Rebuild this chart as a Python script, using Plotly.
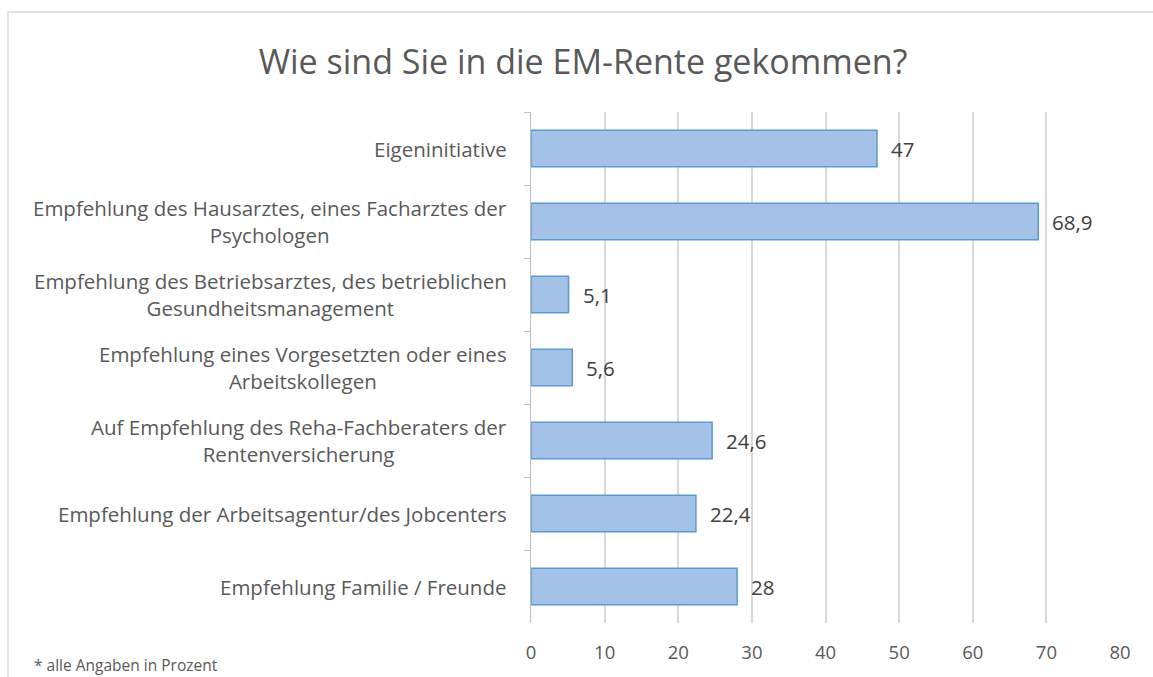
import plotly.graph_objects as go

categories = [
    "Eigeninitiative",
    "Empfehlung des Hausarztes, eines Facharztes der<br>Psychologen",
    "Empfehlung des Betriebsarztes, des betrieblichen<br>Gesundheitsmanagement",
    "Empfehlung eines Vorgesetzten oder eines<br>Arbeitskollegen",
    "Auf Empfehlung des Reha-Fachberaters der<br>Rentenversicherung",
    "Empfehlung der Arbeitsagentur/des Jobcenters",
    "Empfehlung Familie / Freunde",
]
values = [47, 68.9, 5.1, 5.6, 24.6, 22.4, 28]
x_ticks = [0, 10, 20, 30, 40, 50, 60, 70, 80]

title_text = "Wie sind Sie in die EM-Rente gekommen?"
footnote = "* alle Angaben in Prozent"

FONT = "Open Sans"
GRAY = "#595959"

W, H = 1153, 677
ML, MR, MT, MB = 531, 33, 112, 54
pw = W - ML - MR
ph = H - MT - MB

fig = go.Figure()
fig.add_trace(go.Bar(
    x=values,
    y=categories,
    orientation="h",
    marker=dict(color="#a4c2e7", line=dict(color="#5b9bd5", width=1.5)),
    hoverinfo="x+y",
))

annotations = []
for c in categories:
    annotations.append(dict(
        x=0, xref="paper", y=c, yref="y",
        text=c, showarrow=False, xanchor="right", yanchor="middle",
        align="center", xshift=-22,
        font=dict(family=FONT, size=20.5, color=GRAY),
    ))
for c, v in zip(categories, values):
    annotations.append(dict(
        x=v, xref="x", y=c, yref="y",
        text=str(v).replace(".", ","), showarrow=False,
        xanchor="left", yanchor="middle", xshift=12,
        font=dict(family=FONT, size=20.5, color="#404040"),
    ))
annotations.append(dict(
    x=(32 - ML) / pw, xref="paper", y=-42 / ph, yref="paper",
    text=footnote, showarrow=False, xanchor="left", yanchor="middle",
    font=dict(family=FONT, size=15.5, color=GRAY),
))

fig.update_layout(
    width=W, height=H,
    margin=dict(l=ML, r=MR, t=MT, b=MB),
    paper_bgcolor="white", plot_bgcolor="white",
    showlegend=False,
    bargap=0.5,
    title=dict(
        text=title_text, x=583 / W, xref="container", xanchor="center",
        y=1 - 62 / H, yref="container", yanchor="middle",
        font=dict(family=FONT, size=34, color=GRAY),
    ),
    xaxis=dict(
        range=[0, 80], tickvals=x_ticks, showgrid=True, gridcolor="#d9d9d9",
        gridwidth=1.5, zeroline=False, showline=False,
        tickfont=dict(family=FONT, size=18.5, color=GRAY),
        ticks="", ticklabelstandoff=16,
    ),
    yaxis=dict(
        type="category", autorange="reversed", showticklabels=False,
        showline=True, linecolor="#bfbfbf", linewidth=1,
        ticks="outside", tickson="boundaries", ticklen=6, tickcolor="#bfbfbf",
        showgrid=False,
    ),
    annotations=annotations,
    shapes=[dict(
        type="rect", xref="paper", yref="paper",
        x0=(8 - ML) / pw, x1=1.2, y0=-0.3, y1=(H - MB - 12) / ph,
        line=dict(color="#d9d9d9", width=1.5), fillcolor="rgba(0,0,0,0)",
        layer="below",
    )],
)

fig.write_html(
    "out.html",
    config={"displayModeBar": False},
    post_script="document.body.style.margin='0';document.body.style.overflow='hidden';",
)
